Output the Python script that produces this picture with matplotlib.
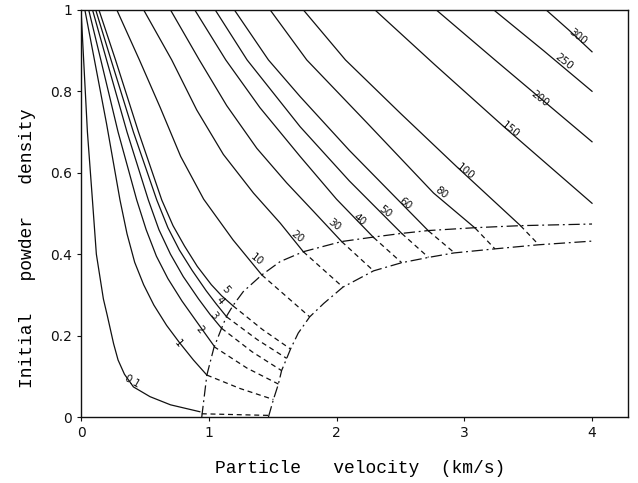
import matplotlib
matplotlib.use("Agg")
import matplotlib.pyplot as plt

# curve levels
levels = ["0.1", "1", "2", "3", "4", "5", "10", "20", "30", "40", "50", "60",
          "80", "100", "150", "200", "250", "300"]

# solid part of each curve: velocity (km/s) and initial powder density
solid_x = [
    [0.0, 0.02, 0.05, 0.09, 0.12, 0.175, 0.205, 0.23, 0.255, 0.29, 0.34, 0.41, 0.54, 0.70, 0.93],
    [0.03, 0.105, 0.20, 0.305, 0.36, 0.42, 0.49, 0.57, 0.67, 0.77, 0.88, 0.985],
    [0.06, 0.155, 0.29, 0.436, 0.51, 0.59, 0.68, 0.79, 0.91, 1.04],
    [0.09, 0.20, 0.36, 0.527, 0.61, 0.70, 0.80, 0.92, 1.01, 1.10],
    [0.115, 0.235, 0.41, 0.593, 0.68, 0.77, 0.87, 0.98, 1.06, 1.14],
    [0.14, 0.27, 0.45, 0.632, 0.72, 0.81, 0.91, 1.02, 1.10, 1.19],
    [0.28, 0.457, 0.62, 0.78, 0.96, 1.19, 1.415],
    [0.49, 0.71, 0.906, 1.114, 1.35, 1.56, 1.74],
    [0.70, 0.926, 1.14, 1.376, 1.61, 1.82, 2.04],
    [0.89, 1.133, 1.40, 1.715, 2.00, 2.29],
    [1.05, 1.30, 1.715, 2.10, 2.51],
    [1.20, 1.467, 1.715, 2.10, 2.72],
    [1.48, 1.767, 2.24, 2.76, 3.085],
    [1.74, 2.07, 2.50, 2.94, 3.44],
    [2.30, 2.77, 3.31, 4.0],
    [2.78, 3.24, 3.55, 4.0],
    [3.23, 3.62, 4.0],
    [3.64, 3.82, 4.0],
]
solid_y = [
    [1.0, 0.88, 0.70, 0.53, 0.40, 0.29, 0.25, 0.215, 0.18, 0.14, 0.105, 0.074, 0.05, 0.03, 0.013],
    [1.0, 0.877, 0.72, 0.533, 0.45, 0.38, 0.325, 0.275, 0.225, 0.183, 0.14, 0.103],
    [1.0, 0.877, 0.70, 0.533, 0.46, 0.395, 0.34, 0.285, 0.232, 0.175],
    [1.0, 0.877, 0.70, 0.533, 0.46, 0.40, 0.345, 0.29, 0.252, 0.218],
    [1.0, 0.877, 0.70, 0.533, 0.465, 0.41, 0.36, 0.31, 0.277, 0.246],
    [1.0, 0.877, 0.70, 0.533, 0.47, 0.42, 0.37, 0.325, 0.298, 0.273],
    [1.0, 0.877, 0.76, 0.64, 0.535, 0.435, 0.349],
    [1.0, 0.877, 0.754, 0.645, 0.55, 0.476, 0.406],
    [1.0, 0.877, 0.765, 0.66, 0.575, 0.505, 0.431],
    [1.0, 0.877, 0.76, 0.64, 0.535, 0.441],
    [1.0, 0.877, 0.713, 0.58, 0.451],
    [1.0, 0.877, 0.787, 0.655, 0.457],
    [1.0, 0.877, 0.722, 0.55, 0.464],
    [1.0, 0.877, 0.746, 0.615, 0.47],
    [1.0, 0.865, 0.713, 0.525],
    [1.0, 0.877, 0.795, 0.676],
    [1.0, 0.90, 0.80],
    [1.0, 0.95, 0.897],
]

# dashed continuation between the two boundaries
dash_x = [
    [0.945, 1.20, 1.467],
    [0.985, 1.245, 1.506],
    [1.04, 1.30, 1.545],
    [1.10, 1.34, 1.57],
    [1.14, 1.38, 1.61],
    [1.19, 1.42, 1.64],
    [1.415, 1.79],
    [1.74, 2.05],
    [2.04, 2.29],
    [2.29, 2.51],
    [2.51, 2.72],
    [2.72, 2.92],
    [3.085, 3.24],
    [3.44, 3.58],
]
dash_y = [
    [0.008, 0.006, 0.004],
    [0.103, 0.07, 0.043],
    [0.173, 0.12, 0.081],
    [0.218, 0.16, 0.114],
    [0.246, 0.19, 0.144],
    [0.273, 0.215, 0.167],
    [0.349, 0.246],
    [0.406, 0.319],
    [0.431, 0.359],
    [0.441, 0.379],
    [0.451, 0.392],
    [0.457, 0.404],
    [0.464, 0.413],
    [0.47, 0.424],
]

# dash-dot boundaries
upper_x = [0.945, 0.985, 1.04, 1.10, 1.14, 1.19, 1.27, 1.415, 1.56, 1.74, 2.04,
           2.29, 2.51, 2.72, 3.085, 3.44, 4.0]
upper_y = [0.0, 0.103, 0.17, 0.218, 0.248, 0.274, 0.308, 0.349, 0.382, 0.406, 0.431,
           0.442, 0.451, 0.458, 0.465, 0.470, 0.474]
lower_x = [1.467, 1.506, 1.545, 1.57, 1.61, 1.64, 1.70, 1.79, 1.90, 2.05, 2.29,
           2.51, 2.72, 2.92, 3.24, 3.58, 4.0]
lower_y = [0.0, 0.043, 0.081, 0.114, 0.144, 0.167, 0.206, 0.246, 0.279, 0.319, 0.359,
           0.379, 0.392, 0.403, 0.413, 0.423, 0.432]

# where the level labels sit
label_x = [0.40, 0.76, 0.93, 1.04, 1.09, 1.13, 1.38, 1.69, 1.98, 2.18, 2.38, 2.54,
           2.82, 3.01, 3.36, 3.59, 3.78, 3.89]
label_y = [0.087, 0.18, 0.214, 0.25, 0.287, 0.312, 0.386, 0.443, 0.472, 0.484, 0.504,
           0.525, 0.55, 0.603, 0.705, 0.783, 0.873, 0.934]

fig = plt.figure(figsize=(6.38, 4.83), dpi=100)
ax = fig.add_axes([0.127, 0.1366, 0.857, 0.843])

ink = "#111111"
for xs, ys in zip(solid_x, solid_y):
    ax.plot(xs, ys, color=ink, lw=0.9)
for xs, ys in zip(dash_x, dash_y):
    ax.plot(xs, ys, color=ink, lw=0.9, linestyle=(0, (4, 3)))
ax.plot(upper_x, upper_y, color=ink, lw=0.9, linestyle=(0, (9, 3, 1.5, 3)))
ax.plot(lower_x, lower_y, color=ink, lw=0.9, linestyle=(0, (9, 3, 1.5, 3)))

for i, lab in enumerate(levels):
    rot = -30 if i == 0 else (-50 if i < 6 else -38)
    ax.text(label_x[i], label_y[i], lab, fontsize=7.5, rotation=rot,
            ha="center", va="center", color=ink, rotation_mode="anchor")

ax.set_xlim(0, 4.28)
ax.set_ylim(0, 1)
ax.set_xticks([0, 1, 2, 3, 4])
ax.set_xticklabels(["0", "1", "2", "3", "4"])
ax.set_yticks([0, 0.2, 0.4, 0.6, 0.8, 1])
ax.set_yticklabels(["0", "0.2", "0.4", "0.6", "0.8", "1"])
ax.tick_params(direction="out", length=3, width=0.8, labelsize=10, colors=ink)
for s in ax.spines.values():
    s.set_linewidth(1.0)
    s.set_color(ink)

ax.set_xlabel("Particle   velocity  (km/s)", family="Liberation Mono", fontsize=13)
ax.set_ylabel("Initial   powder   density", family="Liberation Mono", fontsize=13)
ax.xaxis.set_label_coords(0.51, -0.105)
ax.yaxis.set_label_coords(-0.082, 0.415)

fig.savefig("out.png", dpi=100)
